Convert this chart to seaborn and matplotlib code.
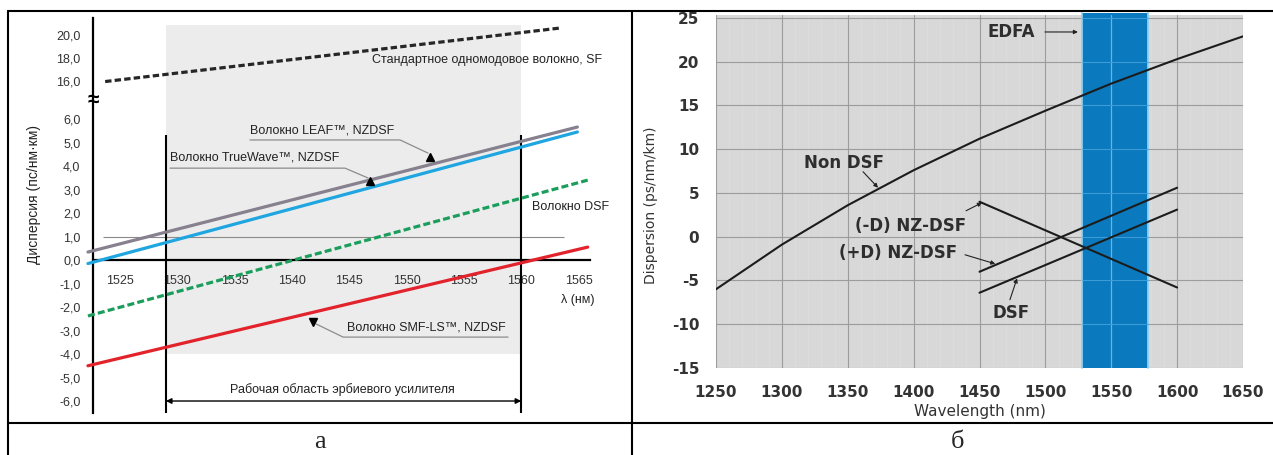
import numpy as np
import matplotlib
matplotlib.use("Agg")
import matplotlib.pyplot as plt
import seaborn as sns
from matplotlib.lines import Line2D
from matplotlib.ticker import MultipleLocator

# ---------------- data: panel a ----------------
sf_wl = [1523.7, 1563.4]
sf_d = [15.95, 20.6]
leaf_wl = [1522.2, 1564.9]
leaf_d = [0.34, 5.66]
tw_wl = [1522.2, 1564.9]
tw_d = [-0.15, 5.45]
dsfa_wl = [1522.2, 1565.8]
dsfa_d = [-2.38, 3.40]
smf_wl = [1522.2, 1565.8]
smf_d = [-4.5, 0.55]
a_xticks = [1525, 1530, 1535, 1540, 1545, 1550, 1555, 1560, 1565]
a_yticks = [-6, -5, -4, -3, -2, -1, 0, 1, 2, 3, 4, 5, 6, 16, 18, 20]
edfa_a = [1529, 1560]

# ---------------- data: panel b ----------------
nondsf_wl = [1250, 1300, 1350, 1400, 1450, 1500, 1550, 1600, 1650]
nondsf_d = [-6.0, -0.9, 3.6, 7.6, 11.2, 14.4, 17.5, 20.3, 22.9]
negnz_wl = [1450, 1600]
negnz_d = [4.0, -5.8]
posnz_wl = [1450, 1600]
posnz_d = [-4.0, 5.6]
dsfb_wl = [1450, 1600]
dsfb_d = [-6.4, 3.1]
b_xticks = [1250, 1300, 1350, 1400, 1450, 1500, 1550, 1600, 1650]
b_yticks = [-15, -10, -5, 0, 5, 10, 15, 20, 25]
edfa_b = [1528, 1578]

sns.set_style("white")
plt.rcParams['font.family'] = ['Liberation Sans', 'DejaVu Sans']
plt.rcParams['axes.unicode_minus'] = False

W, H = 1273, 455
fig = plt.figure(figsize=(W / 100, H / 100), dpi=100)
fig.patch.set_facecolor('white')

# ---------------- panel a ----------------
LOW_TOP, HIGH_BOT, HIGH_REF, HIGH_T, K = 6.7, 14.6, 16.0, 7.62, 0.49
T_HB = HIGH_T + (HIGH_BOT - HIGH_REF) * K


def fwd(y):
    y = np.asarray(y, float)
    return np.where(y <= LOW_TOP, y,
                    np.where(y <= HIGH_BOT,
                             LOW_TOP + (y - LOW_TOP) * (T_HB - LOW_TOP) / (HIGH_BOT - LOW_TOP),
                             HIGH_T + (y - HIGH_REF) * K))


def inv(t):
    t = np.asarray(t, float)
    return np.where(t <= LOW_TOP, t,
                    np.where(t <= T_HB,
                             LOW_TOP + (t - LOW_TOP) * (HIGH_BOT - LOW_TOP) / (T_HB - LOW_TOP),
                             HIGH_REF + (t - HIGH_T) / K))


axa = fig.add_axes([93 / W, (H - 413) / H, 497 / W, 395 / H])
axa.set_yscale('function', functions=(fwd, inv))
axa.set_xlim(1522.64, 1566.0)
axa.set_ylim(-6.51, float(inv(10.30)))
axa.set_facecolor('white')

axa.fill_between(edfa_a, -4.0, 20.86, color='#ececec', lw=0, zorder=0)
axa.hlines(1.0, 1523.5, 1563.7, color='#8a8a8a', lw=0.8, zorder=1)
axa.vlines(edfa_a, -6.51, 5.3, color='black', lw=1.5, zorder=2)

lw = 2.3
sns.lineplot(x=sf_wl, y=sf_d, ax=axa, color='#262626', lw=lw, dashes=False,
             linestyle=(0, (2.0, 1.0)), zorder=3)
sns.lineplot(x=leaf_wl, y=leaf_d, ax=axa, color='#87818f', lw=lw, clip_on=False, zorder=3)
sns.lineplot(x=tw_wl, y=tw_d, ax=axa, color='#1fa6e0', lw=lw, clip_on=False, zorder=3)
sns.lineplot(x=dsfa_wl, y=dsfa_d, ax=axa, color='#1b9e5c', lw=lw, linestyle=(0, (2.2, 1.0)),
             clip_on=False, zorder=3)
sns.lineplot(x=smf_wl, y=smf_d, ax=axa, color='#e2232c', lw=lw, clip_on=False, zorder=3)

for s in ['top', 'right']:
    axa.spines[s].set_visible(False)
axa.spines['left'].set_linewidth(1.6)
axa.spines['left'].set_color('black')
axa.spines['bottom'].set_position(('data', 0))
axa.spines['bottom'].set_linewidth(1.6)
axa.spines['bottom'].set_color('black')

axa.set_xticks(a_xticks)
axa.set_xticklabels([str(v) for v in a_xticks])
axa.set_yticks(a_yticks)
axa.set_yticklabels([f"{v:.1f}".replace('.', ',') for v in a_yticks])
axa.yaxis.set_minor_locator(plt.NullLocator())
axa.tick_params(axis='x', direction='inout', length=8, width=0.9, pad=7, labelsize=9,
                labelcolor='#333333', color='#555555')
axa.tick_params(axis='y', direction='out', length=5, width=0.9, pad=4, labelsize=9,
                labelcolor='#333333', color='#555555')
axa.set_ylabel('Дисперсия (пс/нм·км)', fontsize=10, color='#222222')
axa.yaxis.set_label_coords(-0.105, 0.552)

axa.text(1547.0, 17.8, 'Стандартное одномодовое волокно, SF', fontsize=9, va='center',
         color='#222222')
axa.text(1536.34, 5.53, 'Волокно LEAF™, NZDSF', fontsize=9, va='center', color='#222222')
axa.text(1529.36, 4.38, 'Волокно TrueWave™, NZDSF', fontsize=9, va='center', color='#222222')
axa.text(1560.95, 2.26, 'Волокно DSF', fontsize=9, va='center', color='#222222')
axa.text(1544.8, -2.89, 'Волокно SMF-LS™, NZDSF', fontsize=9, va='center', color='#222222')
axa.text(1564.9, -1.70, 'λ (нм)', fontsize=9, ha='center', va='center', color='#222222')
axa.text(1544.4, -5.53, 'Рабочая область эрбиевого усилителя', fontsize=9, ha='center',
         va='center', color='#222222')

lead_c = '#8c8c8c'
axa.plot([1536.34, 1549.43, 1551.87], [5.11, 5.11, 4.55], color=lead_c, lw=0.9, zorder=4)
axa.plot([1529.36, 1544.63, 1546.64], [3.91, 3.91, 3.49], color=lead_c, lw=0.9, zorder=4)
axa.plot([1558.85, 1544.46, 1542.1], [-3.28, -3.28, -2.72], color=lead_c, lw=0.9, zorder=4)
axa.plot([1552.05], [4.40], marker='^', ms=6, color='black', zorder=5)
axa.plot([1546.81], [3.36], marker='^', ms=6, color='black', zorder=5)
axa.plot([1541.84], [-2.64], marker='v', ms=6, color='black', zorder=5)

axa.annotate('', xy=(1529, -6.0), xytext=(1560, -6.0),
             arrowprops=dict(arrowstyle='<|-|>', lw=1.0, color='black', mutation_scale=8,
                             shrinkA=0, shrinkB=0))

fig.text(93 / W, 1 - 100 / H, '≈', fontsize=15, ha='center', va='center', color='black',
         fontweight='bold')

# ---------------- panel b ----------------
bfont = ['DejaVu Sans']
axb = fig.add_axes([716 / W, (H - 368) / H, 527 / W, 353 / H])
axb.set_facecolor('#d8d8d8')
axb.set_xlim(1250, 1650)
axb.set_ylim(-15, 25.34)
axb.set_xticks(b_xticks)
axb.set_yticks(b_yticks)
axb.xaxis.set_minor_locator(MultipleLocator(10))
axb.set_axisbelow(True)
axb.grid(which='major', color='#9c9c9c', lw=0.8)
axb.grid(which='minor', axis='x', color='#dfdfdf', lw=0.5)
axb.tick_params(which='major', length=6, width=0.8, color='#9c9c9c', pad=6, labelsize=11,
                labelcolor='#333333')
axb.tick_params(which='minor', length=0)
for lab in axb.get_xticklabels() + axb.get_yticklabels():
    lab.set_family(bfont)
    lab.set_fontweight('bold')
for s in axb.spines.values():
    s.set_visible(False)

axb.axvspan(edfa_b[0], edfa_b[1], ymin=0, ymax=1.006, color='#0a79bd', lw=0, zorder=1.5,
            clip_on=False)
axb.axvline(edfa_b[0], ymax=1.006, color='#8dd0f3', lw=1.3, zorder=1.6, clip_on=False)
axb.axvline(edfa_b[1], ymax=1.006, color='#8dd0f3', lw=1.3, zorder=1.6, clip_on=False)
axb.axvline(1550, color='#62b6e6', lw=0.9, zorder=1.7)
axb.hlines(b_yticks, edfa_b[0], edfa_b[1], color='#3d9bd6', lw=0.8, zorder=1.7)

cc = '#1c1c1c'
sns.lineplot(x=nondsf_wl, y=nondsf_d, ax=axb, color=cc, lw=1.5, zorder=3)
sns.lineplot(x=negnz_wl, y=negnz_d, ax=axb, color=cc, lw=1.5, zorder=3)
sns.lineplot(x=posnz_wl, y=posnz_d, ax=axb, color=cc, lw=1.5, zorder=3)
sns.lineplot(x=dsfb_wl, y=dsfb_d, ax=axb, color=cc, lw=1.5, zorder=3)

tkw = dict(fontsize=12, fontweight='bold', color='#2e2e2e', family=bfont, ha='center',
           va='center')
akw = dict(arrowstyle='-|>', lw=0.8, color='#222222', mutation_scale=6, shrinkA=0, shrinkB=0)
axb.text(1347.2, 8.46, 'Non DSF', **tkw)
axb.annotate('', xy=(1373.0, 5.6), xytext=(1361.6, 7.43), arrowprops=akw)
axb.text(1398.0, 1.26, '(-D) NZ-DSF', **tkw)
axb.annotate('', xy=(1451.9, 3.89), xytext=(1439.8, 2.97), arrowprops=akw)
axb.text(1388.1, -1.83, '(+D) NZ-DSF', **tkw)
axb.annotate('', xy=(1462.0, -3.1), xytext=(1439.0, -2.06), arrowprops=akw)
axb.text(1473.9, -8.69, 'DSF', **tkw)
axb.annotate('', xy=(1478.5, -4.75), xytext=(1473.1, -7.2), arrowprops=akw)
axb.text(1473.9, 23.43, 'EDFA', **tkw)
axb.annotate('', xy=(1524.7, 23.4), xytext=(1499.7, 23.4), arrowprops=akw)

axb.set_xlabel('Wavelength (nm)', fontsize=11, color='#333333', family=bfont, labelpad=3)
axb.set_ylabel('Dispersion (ps/nm/km)', fontsize=10, color='#333333', family=bfont)
axb.yaxis.set_label_coords(-0.110, 0.46)

# ---------------- table frame and captions ----------------
blw = 1.5
fig.add_artist(Line2D([8 / W, 1.0], [1 - 11 / H, 1 - 11 / H], transform=fig.transFigure,
                      color='black', lw=blw))
fig.add_artist(Line2D([8 / W, 1.0], [1 - 423 / H, 1 - 423 / H], transform=fig.transFigure,
                      color='black', lw=blw))
fig.add_artist(Line2D([8 / W, 8 / W], [0, 1 - 11 / H], transform=fig.transFigure,
                      color='black', lw=blw))
fig.add_artist(Line2D([632 / W, 632 / W], [0, 1 - 11 / H], transform=fig.transFigure,
                      color='black', lw=blw))
fig.text(320 / W, 1 - 448 / H, 'а', fontsize=19, family=['Liberation Serif'], ha='center',
         va='baseline')
fig.text(957 / W, 1 - 448 / H, 'б', fontsize=19, family=['Liberation Serif'], ha='center',
         va='baseline')

fig.savefig('out.png', dpi=100, facecolor='white')
